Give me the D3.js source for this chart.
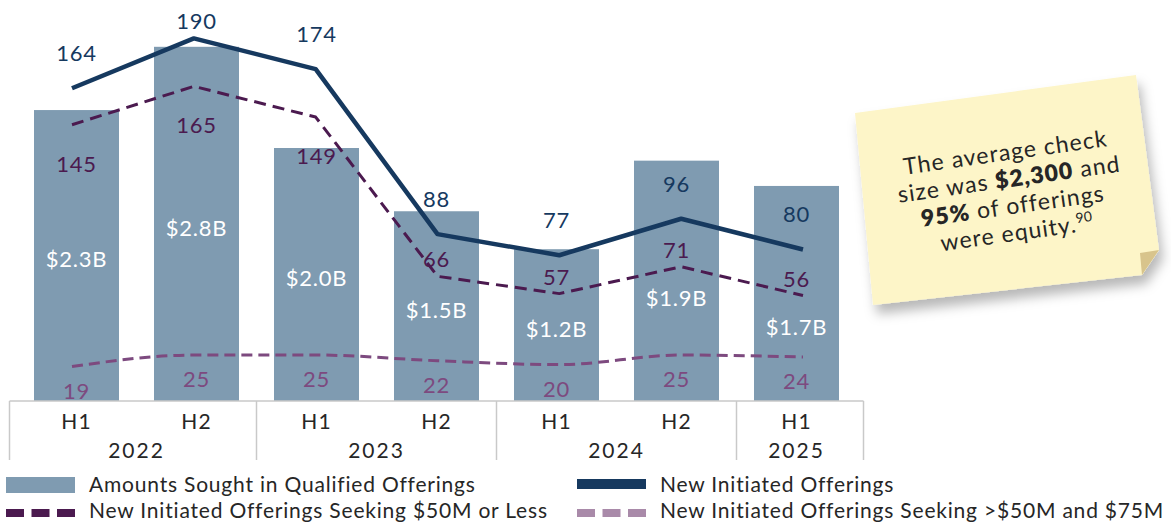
<!DOCTYPE html>
<html>
<head>
<meta charset="utf-8">
<script src="https://cdn.jsdelivr.net/npm/d3@7"></script>
<style>
  body { margin: 0; background: #fff; }
  svg { display: block; font-family: Lato, "Open Sans", sans-serif; }
</style>
</head>
<body>
<svg id="chart" width="1171" height="523"></svg>
<script>
// periods along the x axis
var periods = ["2022 H1", "2022 H2", "2023 H1", "2023 H2", "2024 H1", "2024 H2", "2025 H1"];
var halves = ["H1", "H2", "H1", "H2", "H1", "H2", "H1"];
var years = ["2022", "2022", "2023", "2023", "2024", "2024", "2025"];

// amounts sought, in $ billions
var amounts = [2.3, 2.8, 2.0, 1.5, 1.2, 1.9, 1.7];
// counts of offerings
var newOfferings = [164, 190, 174, 88, 77, 96, 80];
var under50 = [145, 165, 149, 66, 57, 71, 56];
var from50to75 = [19, 25, 25, 22, 20, 25, 24];

var legendLabels = [
  "Amounts Sought in Qualified Offerings",
  "New Initiated Offerings",
  "New Initiated Offerings Seeking $50M or Less",
  "New Initiated Offerings Seeking >$50M and $75M"
];

var noteLines = [
  [["The average check", false]],
  [["size was ", false], ["$2,300", true], [" and", false]],
  [["95%", true], [" of offerings", false]],
  [["were equity.", false]]
];

var colors = {
  bar: "#7f9bb1",
  navy: "#16395f",
  plum: "#4b1a4f",
  mauve: "#7d4a7f",
  lilac: "#a98aa9",
  axis: "#c9c9c9",
  text: "#262626"
};

var svg = d3.select("#chart");

var defs = svg.append("defs");
var shadow = defs.append("filter").attr("id", "shadow")
  .attr("x", "-20%").attr("y", "-20%").attr("width", "150%").attr("height", "160%");
shadow.append("feDropShadow")
  .attr("dx", 4).attr("dy", 9).attr("stdDeviation", 6)
  .attr("flood-color", "#000").attr("flood-opacity", 0.28);

// scales
var xBar = d3.scaleBand().domain(periods).range([16.5, 856.5])
  .paddingInner(35 / 120).paddingOuter(17.5 / 120);
var xLine = d3.scalePoint().domain(periods).range([72, 803]);
var yBar = d3.scaleLinear().domain([0, 3.17]).range([401, 0]);
var yLine = d3.scaleLinear().domain([0, 210]).range([403, 0]);

var rows = periods.map(function(p, i) {
  return { p: p, amt: amounts[i], n: newOfferings[i], u: under50[i], m: from50to75[i] };
});

// bars
svg.append("g").selectAll("rect").data(rows).enter().append("rect")
  .attr("x", function(d) { return xBar(d.p); })
  .attr("width", xBar.bandwidth())
  .attr("y", function(d) { return yBar(d.amt); })
  .attr("height", function(d) { return yBar(0) - yBar(d.amt); })
  .attr("fill", colors.bar);

// bar labels, kept below the $50M dashed line
var fmtB = function(v) { return "$" + d3.format(".1f")(v) + "B"; };
svg.append("g").selectAll("text").data(rows).enter().append("text")
  .attr("x", function(d) { return xBar(d.p) + xBar.bandwidth() / 2; })
  .attr("y", function(d) {
    var mid = (yBar(d.amt) + yBar(0)) / 2 + 4;
    return Math.max(mid, yLine(d.u) + 32);
  })
  .attr("dy", "0.35em")
  .attr("text-anchor", "middle")
  .attr("fill", "#fff")
  .attr("font-size", 22)
  .attr("letter-spacing", 0.8)
  .text(function(d) { return fmtB(d.amt); });

// lines
var lineOf = function(key, curve) {
  return d3.line()
    .x(function(d) { return xLine(d.p); })
    .y(function(d) { return yLine(d[key]); })
    .curve(curve);
};

svg.append("path").datum(rows)
  .attr("d", lineOf("m", d3.curveMonotoneX))
  .attr("fill", "none").attr("stroke", colors.mauve)
  .attr("stroke-width", 3).attr("stroke-dasharray", "11,6");

svg.append("path").datum(rows)
  .attr("d", lineOf("u", d3.curveLinear))
  .attr("fill", "none").attr("stroke", colors.plum)
  .attr("stroke-width", 3).attr("stroke-dasharray", "12,7")
  .attr("stroke-linejoin", "round");

svg.append("path").datum(rows)
  .attr("d", lineOf("n", d3.curveLinear))
  .attr("fill", "none").attr("stroke", colors.navy)
  .attr("stroke-width", 4.5).attr("stroke-linejoin", "round");

var cx = function(d) { return xBar(d.p) + xBar.bandwidth() / 2; };

// value labels
var labels = svg.append("g").attr("font-size", 22).attr("letter-spacing", 0.8).attr("text-anchor", "middle");

labels.selectAll(".n").data(rows).enter().append("text")
  .attr("x", cx)
  .attr("y", function(d) { return Math.max(yLine(d.n) - 27, 29); })
  .attr("fill", colors.navy)
  .text(function(d) { return d.n; });

labels.selectAll(".u").data(rows).enter().append("text")
  .attr("x", cx)
  .attr("y", function(d, i) { return i < 3 ? yLine(d.u) + 47 : yLine(d.u) - 9; })
  .attr("fill", colors.plum)
  .text(function(d) { return d.u; });

labels.selectAll(".m").data(rows).enter().append("text")
  .attr("x", cx)
  .attr("y", function(d) { return Math.min(yLine(d.m) + 32, 399); })
  .attr("fill", colors.mauve)
  .text(function(d) { return d.m; });

// category axis: H1/H2 row, year row, boxed groups
var axis = svg.append("g").attr("font-size", 21).attr("letter-spacing", 1.2);
var gap = xBar.step() - xBar.bandwidth();
var left = xBar.range()[0] - 7, right = xBar.range()[1] + 7;
axis.append("line")
  .attr("x1", left).attr("x2", right).attr("y1", 401).attr("y2", 401)
  .attr("stroke", colors.axis).attr("stroke-width", 1.5);

var yearGroups = d3.groups(periods.map(function(p, i) { return { p: p, y: years[i] }; }),
  function(d) { return d.y; });
var dividers = [left];
yearGroups.forEach(function(g, gi) {
  if (gi > 0) dividers.push(xBar(g[1][0].p) - gap / 2);
});
dividers.push(right);
axis.selectAll(".div").data(dividers).enter().append("line")
  .attr("x1", function(d) { return d; }).attr("x2", function(d) { return d; })
  .attr("y1", 401).attr("y2", 460)
  .attr("stroke", colors.axis).attr("stroke-width", 1.5);

axis.selectAll(".half").data(rows).enter().append("text")
  .attr("x", cx).attr("y", 429)
  .attr("text-anchor", "middle").attr("fill", colors.text)
  .text(function(d, i) { return halves[i]; });

axis.selectAll(".year").data(yearGroups).enter().append("text")
  .attr("x", function(g) { return d3.mean(g[1], cx); })
  .attr("y", 458)
  .attr("text-anchor", "middle").attr("fill", colors.text).attr("letter-spacing", 2)
  .text(function(g) { return g[0]; });

// legend
var legend = svg.append("g").attr("font-size", 21).attr("letter-spacing", 0.8).attr("fill", colors.text);
var legendPos = [[6, 492], [577, 492], [6, 518], [577, 518]];
legendLabels.forEach(function(label, i) {
  var g = legend.append("g").attr("transform", "translate(" + legendPos[i][0] + "," + legendPos[i][1] + ")");
  if (i === 0) {
    g.append("rect").attr("x", 0).attr("y", -15).attr("width", 69).attr("height", 16).attr("fill", colors.bar);
  } else if (i === 1) {
    g.append("rect").attr("x", 0).attr("y", -13).attr("width", 69).attr("height", 10).attr("fill", colors.navy);
  } else {
    var c = i === 2 ? colors.plum : colors.lilac;
    [0, 25.5, 51].forEach(function(dx) {
      g.append("rect").attr("x", dx).attr("y", -9).attr("width", 18).attr("height", 8).attr("fill", c);
    });
  }
  g.append("text").attr("x", 83).attr("y", 0).text(label);
});

// sticky note
var note = svg.append("g");
note.append("polygon")
  .attr("points", "855,113 1136,75 1159,250 1142,275 873,305")
  .attr("fill", "#fdf5c8")
  .attr("filter", "url(#shadow)");
note.append("polygon")
  .attr("points", "1140,253 1159,250 1142,275")
  .attr("fill", "#d8c48c");

var noteText = note.append("g")
  .attr("transform", "translate(1011,193) rotate(-8)")
  .attr("font-size", 23).attr("letter-spacing", 1.1).attr("fill", "#262626").attr("text-anchor", "middle");
var baselines = [-33, -6, 21, 48];
noteLines.forEach(function(parts, i) {
  var t = noteText.append("text").attr("x", 0).attr("y", baselines[i]);
  parts.forEach(function(part) {
    t.append("tspan").attr("font-weight", part[1] ? 800 : 400).text(part[0]);
  });
  if (i === noteLines.length - 1) {
    t.append("tspan").attr("font-size", 14).attr("dy", -9).attr("letter-spacing", 0).text("90");
  }
});
</script>
</body>
</html>
